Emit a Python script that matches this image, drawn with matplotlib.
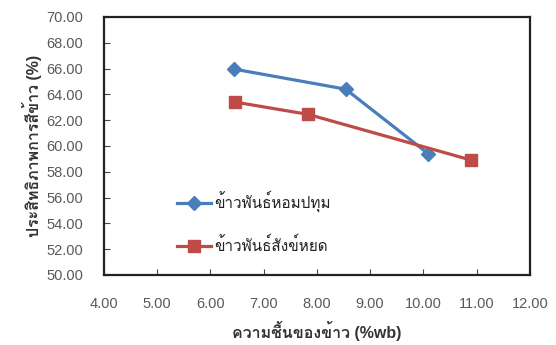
import matplotlib
matplotlib.use("Agg")
import matplotlib.pyplot as plt
from matplotlib import font_manager as fm

# Find an installed font that covers Thai
thai_font = None
try:
    from fontTools.ttLib import TTFont
    for f in fm.fontManager.ttflist:
        try:
            tt = TTFont(f.fname, fontNumber=0, lazy=True)
            cmap = tt.getBestCmap()
            if cmap and 0x0E02 in cmap and 0x0E49 in cmap:
                thai_font = f.name
                break
        except Exception:
            pass
except Exception:
    pass

families = ['Liberation Sans']
if thai_font:
    families.append(thai_font)
families.append('DejaVu Sans')
plt.rcParams['font.family'] = families

x_hom = [6.45, 8.54, 10.09]
y_hom = [65.95, 64.4, 59.4]
x_sang = [6.46, 7.83, 10.9]
y_sang = [63.4, 62.45, 58.9]
series_names = ['ข้าวพันธ์หอมปทุม', 'ข้าวพันธ์สังข์หยด']
xlabel = 'ความชื้นของข้าว (%wb)'
ylabel = 'ประสิทธิภาพการสีข้าว (%)'

fig = plt.figure(figsize=(5.56, 3.45), dpi=100)
ax = fig.add_axes([0.187, 0.203, 0.766, 0.748])

ax.plot(x_hom, y_hom, color='#4a7ebb', lw=2.3, marker='D', ms=7,
        markerfacecolor='#4a7ebb', markeredgecolor='#4a7ebb', label=series_names[0])
ax.plot(x_sang, y_sang, color='#be4b48', lw=2.3, marker='s', ms=8,
        markerfacecolor='#be4b48', markeredgecolor='#be4b48', label=series_names[1])

ax.set_xlim(4, 12)
ax.set_ylim(50, 70)
ax.set_xticks([4, 5, 6, 7, 8, 9, 10, 11, 12])
ax.set_yticks(list(range(50, 71, 2)))
ax.set_xticklabels([f'{v:.2f}' for v in ax.get_xticks()])
ax.set_yticklabels([f'{v:.2f}' for v in ax.get_yticks()])
ax.tick_params(axis='both', direction='in', length=4, width=0.8, color='#444444',
               labelsize=10.5, labelcolor='#595959')
ax.tick_params(axis='x', pad=16)
ax.tick_params(axis='y', pad=15)
for s in ax.spines.values():
    s.set_linewidth(1.6)
    s.set_color('#222222')

ax.set_xlabel(xlabel, fontsize=11.5, fontweight='bold', color='#333333', labelpad=7)
ax.set_ylabel(ylabel, fontsize=11.5, fontweight='bold', color='#333333', labelpad=3)

leg = ax.legend(loc='lower left', bbox_to_anchor=(0.14, 0.028), frameon=False,
                fontsize=11, handlelength=2.2, labelspacing=1.6, handletextpad=0.2,
                labelcolor='#222222')

fig.savefig('out.png', dpi=100)
